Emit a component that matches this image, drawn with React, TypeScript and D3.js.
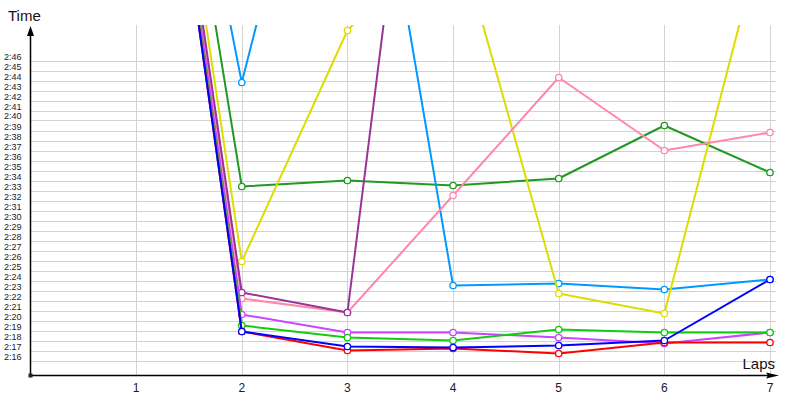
import React, { useRef, useEffect } from "react";
import * as d3 from "d3";

// lap numbers on the x axis
const laps = [1, 2, 3, 4, 5, 6, 7];

// lap times per driver, "m:ss.s" (null = no more laps)
const redTimes = ["3:34.2", "2:18.9", "2:17.0", "2:17.2", "2:16.7", "2:17.8", "2:17.8"];
const blueTimes = ["3:34.0", "2:18.9", "2:17.4", "2:17.3", "2:17.5", "2:18.0", "2:24.1"];
const greenTimes = ["3:34.5", "2:19.5", "2:18.3", "2:18.0", "2:19.1", "2:18.8", "2:18.8"];
const violetTimes = ["3:34.8", "2:20.6", "2:18.8", "2:18.8", "2:18.3", "2:17.7", "2:18.8"];
const pinkTimes = ["3:35.3", "2:22.2", "2:20.8", "2:32.5", "2:44.3", "2:37.0", "2:38.8"];
const purpleTimes = ["3:35.6", "2:22.8", "2:20.8", "3:45.0", null, null, null];
const lightBlueTimes = ["3:37.2", "2:43.8", "3:25.4", "2:23.5", "2:23.7", "2:23.1", "2:24.1"];
const yellowTimes = ["3:35.9", "2:25.9", "2:49.0", "3:00.1", "2:22.7", "2:20.7", "3:01.4"];
const darkGreenTimes = ["3:38.2", "2:33.4", "2:34.0", "2:33.5", "2:34.2", "2:39.5", "2:34.8"];

// y tick labels (one per second)
const yTicks = [
  "2:16", "2:17", "2:18", "2:19", "2:20", "2:21", "2:22", "2:23", "2:24", "2:25", "2:26",
  "2:27", "2:28", "2:29", "2:30", "2:31", "2:32", "2:33", "2:34", "2:35", "2:36", "2:37",
  "2:38", "2:39", "2:40", "2:41", "2:42", "2:43", "2:44", "2:45", "2:46",
];

const toSec = (t: string) => {
  const [m, s] = t.split(":");
  return +m * 60 + +s;
};

// drawing order = back to front
const series = [
  { color: "#229922", times: darkGreenTimes },
  { color: "#0099ff", times: lightBlueTimes },
  { color: "#dddd00", times: yellowTimes },
  { color: "#ff88aa", times: pinkTimes },
  { color: "#993399", times: purpleTimes },
  { color: "#cc44ff", times: violetTimes },
  { color: "#11cc11", times: greenTimes },
  { color: "#ff0000", times: redTimes },
  { color: "#0000ff", times: blueTimes },
];

const FONT = "'Liberation Sans', Arial, sans-serif";

const LapChart: React.FC = () => {
  const svgRef = useRef<SVGSVGElement | null>(null);

  useEffect(() => {
    const width = 800;
    const ox = 30.5; // axis origin
    const oy = 375.5;
    const top = 25;
    const right = 776;

    const svg = d3.select(svgRef.current);
    svg.selectAll("*").remove();

    const x = d3.scaleLinear().domain([0, 7]).range([ox, 770]);
    const y = d3.scaleLinear()
      .domain([toSec(yTicks[0]), toSec(yTicks[yTicks.length - 1])])
      .range([360.5, 60.5]);

    svg.append("clipPath").attr("id", "plot")
      .append("rect")
      .attr("x", ox).attr("y", top)
      .attr("width", width - ox).attr("height", oy - top);

    // grid
    const grid = svg.append("g").attr("stroke", "#d2d2d2").attr("stroke-width", 1);
    grid.selectAll("line.h")
      .data(yTicks)
      .join("line")
      .attr("class", "h")
      .attr("x1", ox).attr("x2", right)
      .attr("y1", (d) => Math.round(y(toSec(d))) + 0.5)
      .attr("y2", (d) => Math.round(y(toSec(d))) + 0.5);
    grid.selectAll("line.v")
      .data(laps)
      .join("line")
      .attr("class", "v")
      .attr("x1", (d) => Math.round(x(d)) + 0.5)
      .attr("x2", (d) => Math.round(x(d)) + 0.5)
      .attr("y1", top).attr("y2", oy);

    // y labels
    svg.append("g")
      .selectAll("text")
      .data(yTicks)
      .join("text")
      .attr("x", 4)
      .attr("y", (d) => Math.round(y(toSec(d))) - 1)
      .attr("font-family", FONT)
      .attr("font-size", 9)
      .attr("fill", "#1a1a30")
      .text((d) => d);

    // x labels
    svg.append("g")
      .selectAll("text")
      .data(laps)
      .join("text")
      .attr("x", (d) => x(d))
      .attr("y", 392)
      .attr("text-anchor", "middle")
      .attr("font-family", FONT)
      .attr("font-size", 12)
      .attr("fill", "#1a1a30")
      .text((d) => String(d));

    // series
    const plot = svg.append("g").attr("clip-path", "url(#plot)");
    series.forEach((s) => {
      const pts = laps
        .map((lap, i) => ({ lap, t: s.times[i] }))
        .filter((p) => p.t !== null)
        .map((p) => ({ lap: p.lap, v: toSec(p.t as string) }));

      const line = d3.line<{ lap: number; v: number }>()
        .x((d) => x(d.lap))
        .y((d) => y(d.v));

      plot.append("path")
        .datum(pts)
        .attr("d", line)
        .attr("fill", "none")
        .attr("stroke", s.color)
        .attr("stroke-width", 2)
        .attr("stroke-linejoin", "round");

      plot.selectAll(null)
        .data(pts)
        .join("circle")
        .attr("cx", (d) => x(d.lap))
        .attr("cy", (d) => y(d.v))
        .attr("r", 3.2)
        .attr("fill", "#fff")
        .attr("stroke", s.color)
        .attr("stroke-width", 1.3);
    });

    // axes
    const axes = svg.append("g");
    axes.append("line")
      .attr("x1", ox).attr("x2", 772)
      .attr("y1", oy).attr("y2", oy)
      .attr("stroke", "#000").attr("stroke-width", 1.5);
    axes.append("line")
      .attr("x1", ox).attr("x2", ox)
      .attr("y1", oy).attr("y2", 34)
      .attr("stroke", "#000").attr("stroke-width", 1.5);
    axes.append("path")
      .attr("d", `M${ox},26 L${ox - 3.5},36 L${ox + 3.5},36 Z`)
      .attr("fill", "#000");
    axes.append("path")
      .attr("d", `M779,${oy} L766,${oy - 3} L768,${oy} L766,${oy + 3} Z`)
      .attr("fill", "#000");
    axes.append("rect")
      .attr("x", ox - 2).attr("y", oy - 2)
      .attr("width", 4).attr("height", 4)
      .attr("fill", "#222");

    svg.append("text")
      .attr("x", 8).attr("y", 21)
      .attr("font-family", FONT)
      .attr("font-size", 15)
      .attr("fill", "#1a1010")
      .text("Time");
    svg.append("text")
      .attr("x", 775).attr("y", 369)
      .attr("text-anchor", "end")
      .attr("font-family", FONT)
      .attr("font-size", 15)
      .attr("fill", "#1a1010")
      .text("Laps");
  }, []);

  return (
    <svg
      ref={svgRef}
      width={800}
      height={400}
      style={{ position: "absolute", left: 0, top: 0, background: "#fff" }}
    />
  );
};

export default function App() {
  return <LapChart />;
}
